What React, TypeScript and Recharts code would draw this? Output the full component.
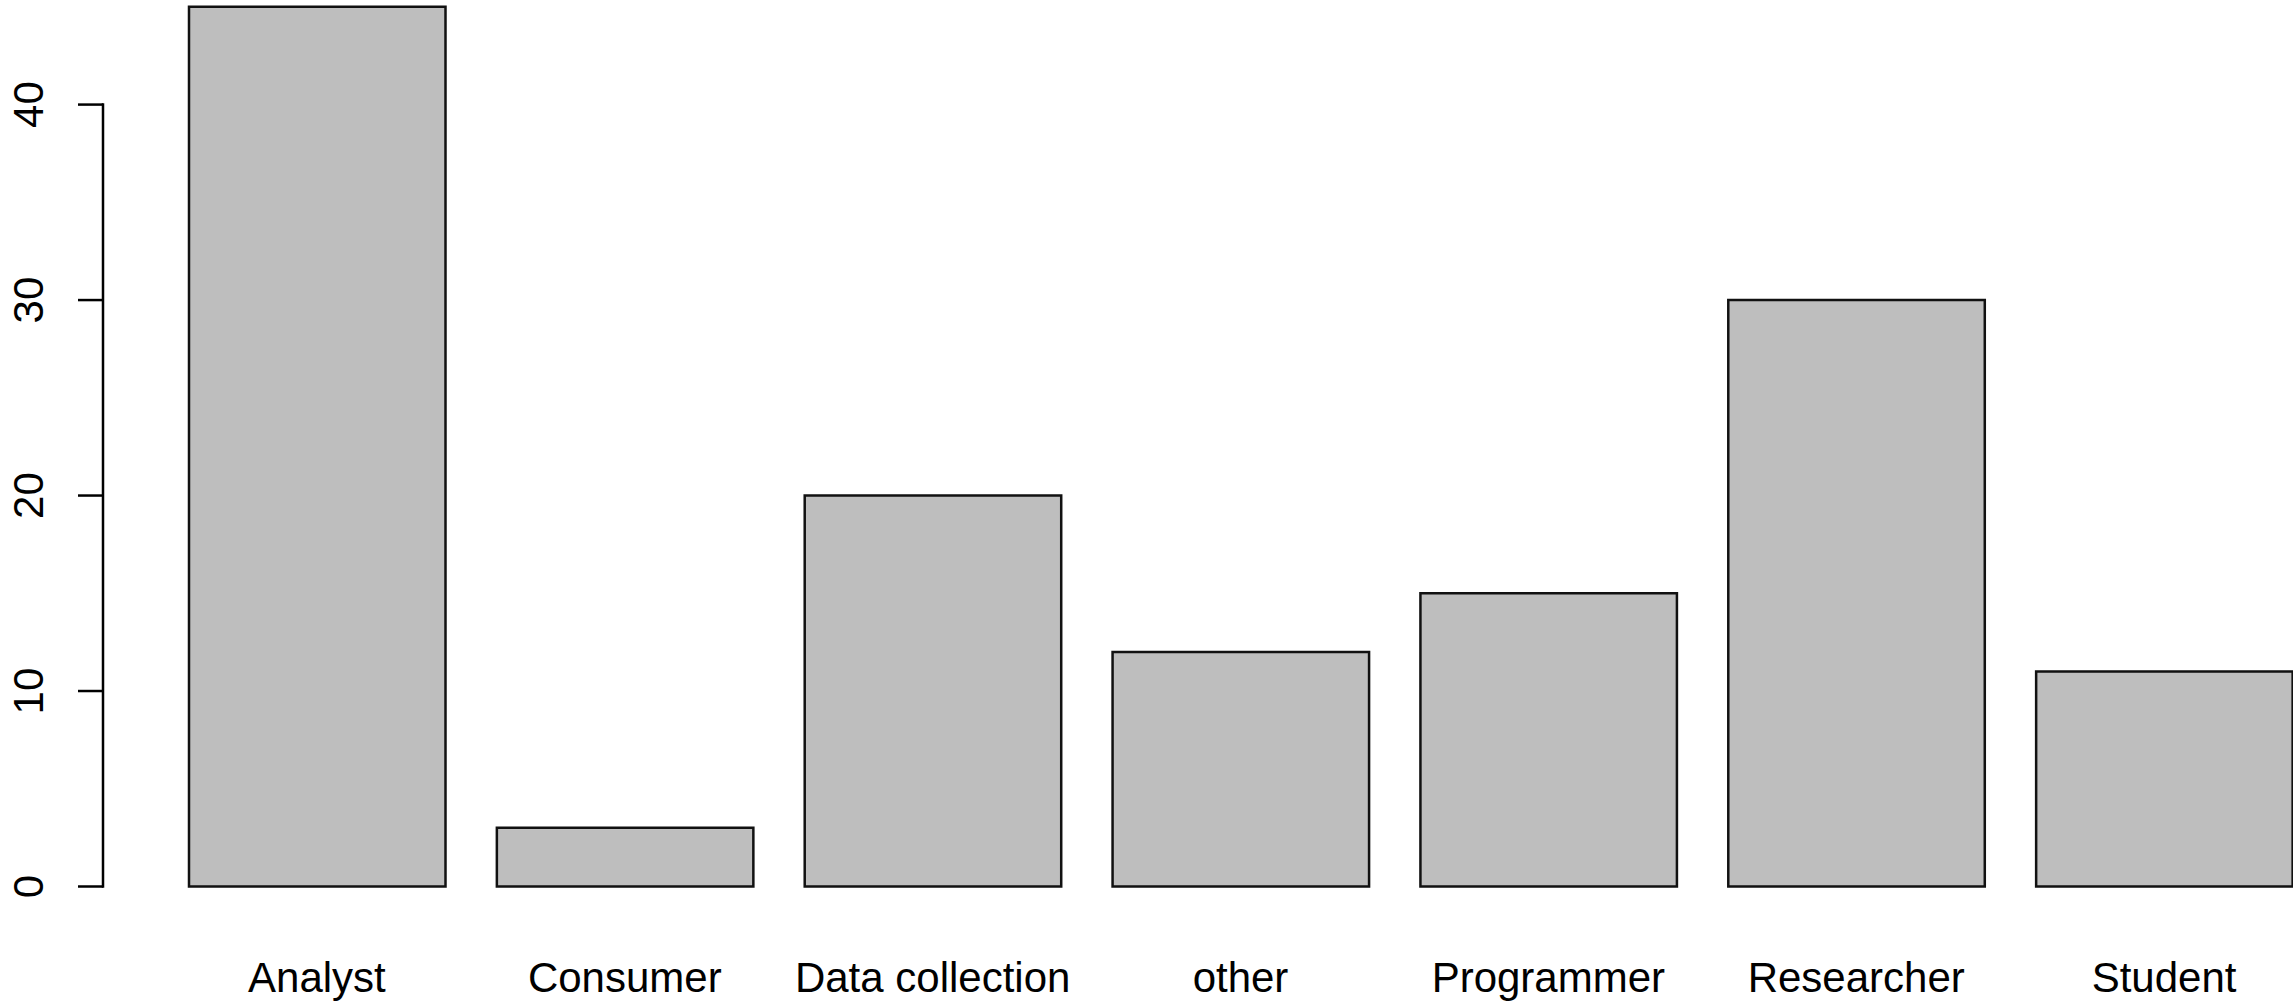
import { BarChart, Bar, XAxis, YAxis, ReferenceLine } from 'recharts'

const categories = ['Analyst', 'Consumer', 'Data collection', 'other', 'Programmer', 'Researcher', 'Student']
const counts = [45, 3, 20, 12, 15, 30, 11]
const yTicks = [0, 10, 20, 30, 40]
const yMax = 45.35

const data = categories.map((name, i) => ({ name, count: counts[i] }))

const FONT = '"Liberation Sans", Arial, Helvetica, sans-serif'
const AXIS_GAP = 60 // R draws the y axis a bit left of the first bar's band

function YTick({ y, payload }: any) {
  return (
    <text
      x={43}
      y={y}
      transform={`rotate(-90, 43, ${y})`}
      textAnchor="middle"
      fontSize={42}
      fontFamily={FONT}
      fill="#000"
    >
      {payload.value}
    </text>
  )
}

function XTick({ x, y, payload }: any) {
  return (
    <text x={x} y={y + 105} textAnchor="middle" fontSize={42} fontFamily={FONT} fill="#000">
      {payload.value}
    </text>
  )
}

export default function App() {
  return (
    <div style={{ position: 'absolute', left: 0, top: 0, width: 2293, height: 1001, overflow: 'hidden', background: '#fff' }}>
      <BarChart width={2318} height={1001} data={data} margin={{ top: 0, right: 0, bottom: 0, left: 0 }}>
        <XAxis
          dataKey="name"
          height={114.5}
          axisLine={false}
          tickLine={false}
          tickSize={0}
          tickMargin={0}
          padding={{ left: AXIS_GAP, right: 0 }}
          interval={0}
          tick={<XTick />}
        />
        <YAxis
          width={103}
          domain={[0, yMax]}
          ticks={yTicks}
          axisLine={false}
          tickSize={25}
          tickLine={{ stroke: '#000', strokeWidth: 2.5 }}
          tick={<YTick />}
        />
        <ReferenceLine
          segment={[
            { x: categories[0], y: yTicks[0] },
            { x: categories[0], y: yTicks[yTicks.length - 1] },
          ]}
          position="start"
          ifOverflow="visible"
          shape={(p: any) => (
            <line x1={p.x1 - AXIS_GAP} y1={p.y1 + 1.25} x2={p.x2 - AXIS_GAP} y2={p.y2 - 1.25} stroke="#000" strokeWidth={2.5} />
          )}
        />
        <Bar dataKey="count" fill="#bebebe" stroke="#111" strokeWidth={2.5} barSize={256.5} isAnimationActive={false} />
      </BarChart>
    </div>
  )
}
